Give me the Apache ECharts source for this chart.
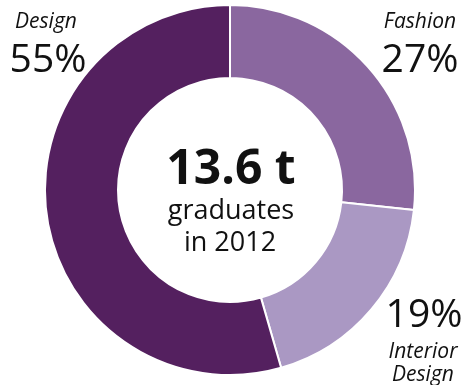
<!DOCTYPE html>
<html>
<head>
<meta charset="utf-8">
<style>
  html, body { margin: 0; padding: 0; background: #fff; }
  #chart { width: 465px; height: 385px; }
</style>
<script src="https://cdn.jsdelivr.net/npm/echarts@6/dist/echarts.min.js"></script>
</head>
<body>
<div id="chart"></div>
<script>
// Share of graduates by field, clockwise from the top
const categories = ['Fashion', 'Interior Design', 'Design'];
const shares = [27, 19, 55];
const sliceColors = ['#8a679f', '#aa98c3', '#54205f'];
const totalLabel = '13.6 t';
const subLabel = ['graduates', 'in 2012'];

const FONT = '"Open Sans", "Noto Sans", sans-serif';

const chart = echarts.init(document.getElementById('chart'), null, { renderer: 'canvas' });

function nameText(text, x, y) {
  return {
    type: 'text', x: x, y: y,
    style: { text: text, font: 'italic 21px ' + FONT, fill: '#111', align: 'center', verticalAlign: 'middle' }
  };
}
function pctText(value, x, y) {
  return {
    type: 'text', x: x, y: y,
    style: { text: value + '%', font: '39px ' + FONT, fill: '#111', align: 'center', verticalAlign: 'middle' }
  };
}

chart.setOption({
  animation: false,
  series: [{
    type: 'pie',
    center: [230, 190],
    radius: [112, 185],
    startAngle: 90,
    clockwise: true,
    label: { show: false },
    labelLine: { show: false },
    itemStyle: { borderColor: '#fff', borderWidth: 2 },
    emphasis: { disabled: true },
    data: categories.map((c, i) => ({ name: c, value: shares[i], itemStyle: { color: sliceColors[i] } }))
  }],
  graphic: [
    nameText('Design', 46, 22),
    pctText(shares[2], 48, 61),
    nameText('Fashion', 420, 22),
    pctText(shares[0], 420, 61),
    pctText(shares[1], 424, 316),
    nameText('Interior', 423, 352),
    nameText('Design', 423, 375),
    {
      type: 'text', x: 231, y: 170,
      style: { text: totalLabel, font: 'bold 48px ' + FONT, fill: '#111', align: 'center', verticalAlign: 'middle' }
    },
    {
      type: 'text', x: 231, y: 211,
      style: { text: subLabel[0], font: '27px ' + FONT, fill: '#111', align: 'center', verticalAlign: 'middle' }
    },
    {
      type: 'text', x: 230, y: 243,
      style: { text: subLabel[1], font: '27px ' + FONT, fill: '#111', align: 'center', verticalAlign: 'middle' }
    }
  ]
});
</script>
</body>
</html>
